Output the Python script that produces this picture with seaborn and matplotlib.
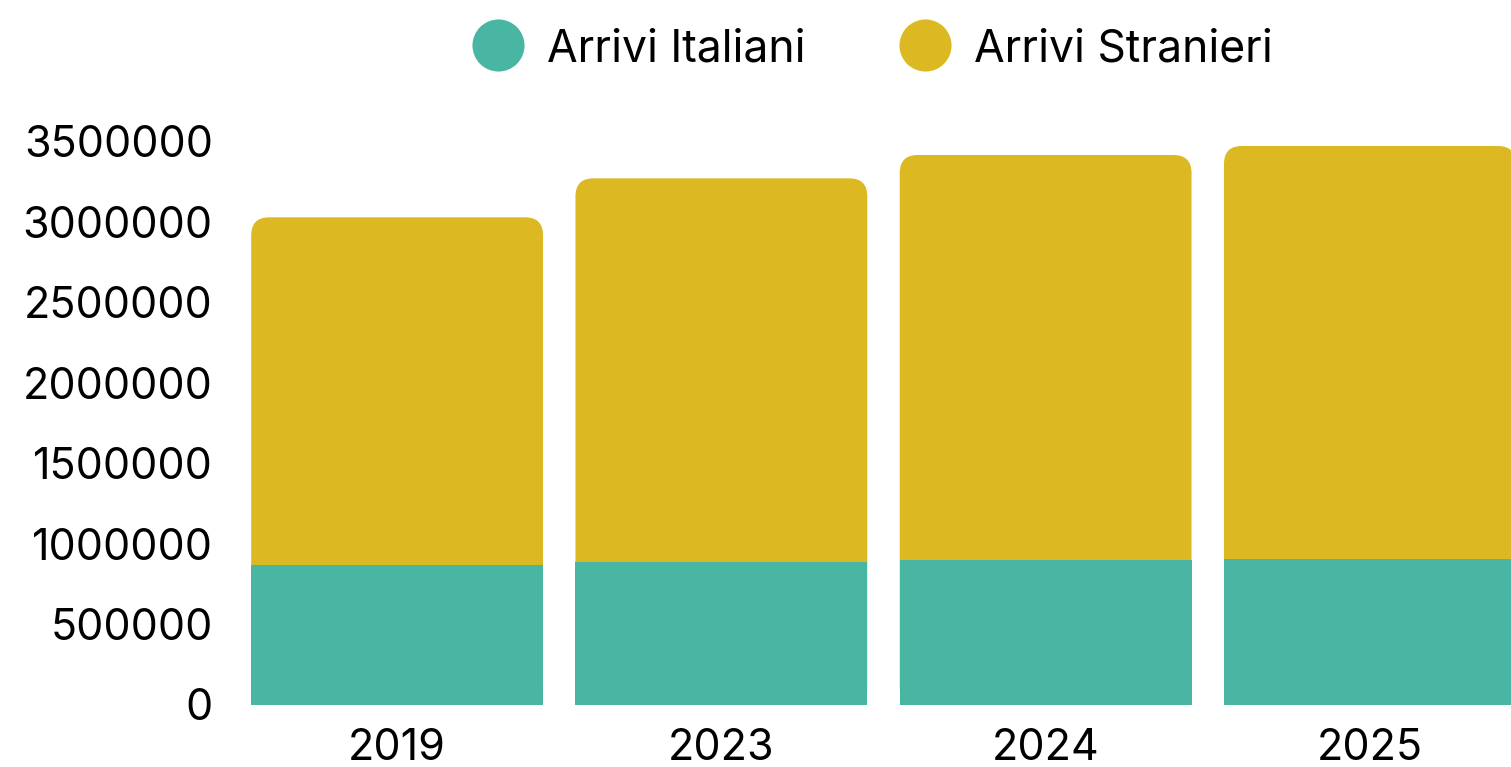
import matplotlib
matplotlib.use("Agg")
import matplotlib.pyplot as plt
from matplotlib.patches import FancyBboxPatch
from matplotlib.lines import Line2D
import seaborn as sns
import pandas as pd

# Arrivals by year
anni = ["2019", "2023", "2024", "2025"]
arrivi_italiani = [866000, 887000, 897000, 906000]
arrivi_stranieri = [2160000, 2381000, 2516000, 2563000]
yticks = [0, 500000, 1000000, 1500000, 2000000, 2500000, 3000000, 3500000]

COL_IT = "#48B6A3"
COL_ST = "#DCB823"

sns.set_theme(style="white")
plt.rcParams["font.family"] = ["Inter", "DejaVu Sans"]

df = pd.DataFrame({
    "anno": anni,
    "italiani": arrivi_italiani,
    "stranieri": arrivi_stranieri,
})
df["totale"] = df["italiani"] + df["stranieri"]

W, H = 1511, 767
fig = plt.figure(figsize=(W / 100, H / 100), dpi=100)
ax = fig.add_axes([235 / W, (H - 704.5) / H, 1297 / W, (704.5 - 141) / H])

# full stack height first, the Italian share drawn over its lower part
sns.barplot(data=df, x="anno", y="totale", color=COL_ST, width=0.9,
            saturation=1, linewidth=0, ax=ax)
top_bars = list(ax.patches)
sns.barplot(data=df, x="anno", y="italiani", color=COL_IT, width=0.9,
            saturation=1, linewidth=0, ax=ax)
base_bars = [p for p in ax.patches if p not in top_bars]

ax.set_xlim(-0.5, len(anni) - 0.5)
ax.set_ylim(0, 3500000)
ax.set_yticks(yticks)
ax.set_yticklabels([str(v) for v in yticks])
ax.set_xlabel("")
ax.set_ylabel("")
for s in ax.spines.values():
    s.set_visible(False)
ax.tick_params(axis="y", length=0, pad=16, labelsize=31, labelcolor="black")
ax.tick_params(axis="x", length=0, pad=17, labelsize=31, labelcolor="black")

# round the upper corners of the stacked bars
fig.canvas.draw()
inv = ax.transData.inverted()
x0, y0 = inv.transform((0, 0))
x1, y1 = inv.transform((1, 1))
dx_px, dy_px = abs(x1 - x0), abs(y1 - y0)
radius_px = 18
for p in top_bars:
    bx, by = p.get_x(), p.get_y()
    bw, bh = p.get_width(), p.get_height()
    p.set_visible(False)
    rounded = FancyBboxPatch(
        (bx, by), bw, bh,
        boxstyle=f"round,pad=0,rounding_size={radius_px * dx_px}",
        mutation_aspect=dy_px / dx_px,
        facecolor=COL_ST, edgecolor="none", linewidth=0, zorder=1,
    )
    ax.add_patch(rounded)
for p in base_bars:
    p.set_zorder(2)

handles = [
    Line2D([], [], marker="o", linestyle="none", markersize=37.5,
           markerfacecolor=COL_IT, markeredgecolor="none", label="Arrivi Italiani"),
    Line2D([], [], marker="o", linestyle="none", markersize=37.5,
           markerfacecolor=COL_ST, markeredgecolor="none", label="Arrivi Stranieri"),
]
fig.legend(handles=handles, loc="center", bbox_to_anchor=(872 / W, 1 - 49 / H),
           ncol=2, frameon=False, fontsize=32, labelcolor="black",
           handlelength=1.2, handletextpad=0.5, columnspacing=2.1,
           borderaxespad=0, borderpad=0)

fig.savefig("out.png", dpi=100)
